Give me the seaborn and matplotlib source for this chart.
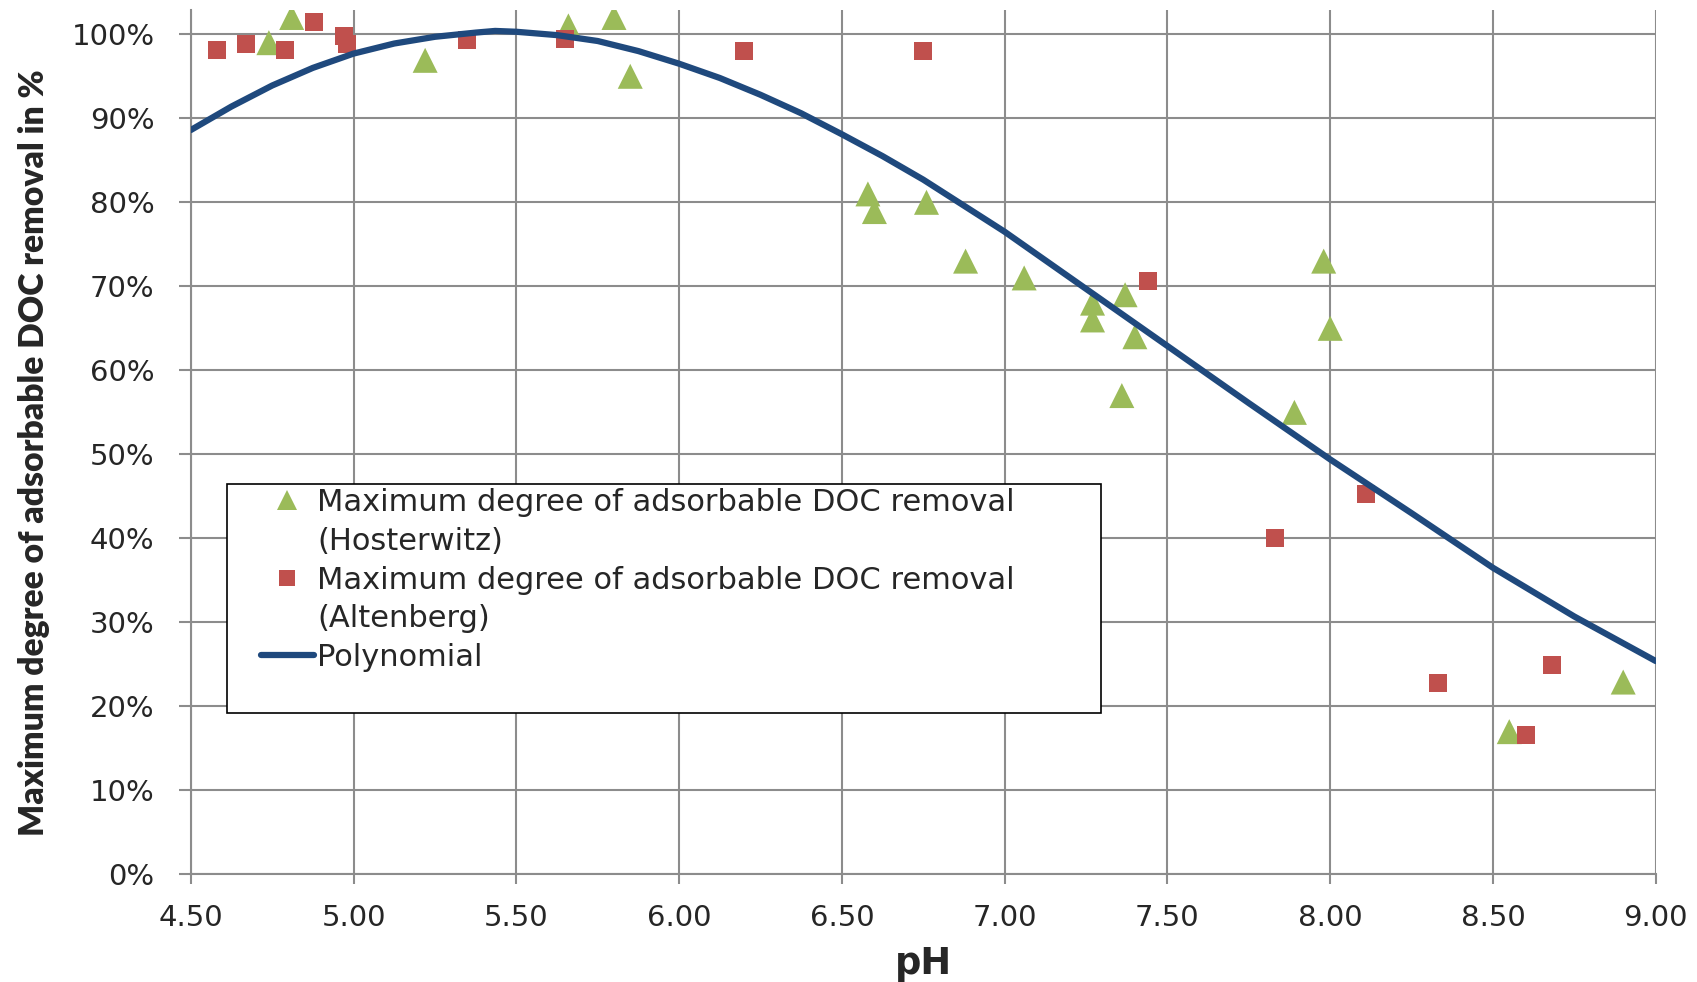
import matplotlib
matplotlib.use("Agg")
import matplotlib.pyplot as plt
import seaborn as sns
import numpy as np
import pandas as pd
from matplotlib.lines import Line2D
from matplotlib.patches import Rectangle
from matplotlib.ticker import FuncFormatter, MultipleLocator

# Hosterwitz measurements (pH, removal %)
hoster_ph = [4.74, 4.81, 5.22, 5.66, 5.80, 5.85, 6.58, 6.60, 6.76, 6.88, 7.06,
             7.27, 7.27, 7.37, 7.40, 7.36, 7.98, 8.00, 7.89, 8.55, 8.90]
hoster_removal = [99.0, 102.0, 96.9, 101.0, 102.0, 95.0, 81.0, 78.9, 80.0, 73.0, 71.0,
                  68.0, 66.0, 69.0, 64.0, 57.0, 73.0, 65.0, 55.0, 17.0, 22.9]

# Altenberg measurements (pH, removal %)
alten_ph = [4.58, 4.67, 4.79, 4.88, 4.97, 4.98, 5.35, 5.65, 6.20, 6.75,
            7.44, 8.11, 7.83, 8.33, 8.60, 8.68]
alten_removal = [98.1, 98.8, 98.1, 101.5, 99.8, 98.8, 99.3, 99.4, 98.0, 98.0,
                 70.6, 45.3, 40.0, 22.8, 16.6, 24.9]

# polynomial trendline
poly_ph = [4.500, 4.625, 4.750, 4.875, 5.000, 5.125, 5.250, 5.375, 5.435, 5.500,
           5.625, 5.750, 5.875, 6.000, 6.125, 6.250, 6.375, 6.500, 6.625, 6.750,
           6.875, 7.000, 7.250, 7.500, 7.750, 8.000, 8.250, 8.500, 8.750, 9.000]
poly_removal = [88.6, 91.4, 93.9, 96.0, 97.7, 98.9, 99.7, 100.2, 100.4, 100.3,
                99.9, 99.2, 98.0, 96.5, 94.8, 92.8, 90.6, 88.1, 85.5, 82.7,
                79.6, 76.5, 69.7, 62.9, 56.1, 49.4, 43.0, 36.5, 30.7, 25.4]

label_hoster = "Maximum degree of adsorbable DOC removal"
label_alten = "Maximum degree of adsorbable DOC removal"
green = "#9BBB59"
red = "#C0504D"
blue = "#1F497D"
grid_c = "#8C8C8C"

sns.set_style("white")
plt.rcParams['font.family'] = ['DejaVu Sans']

fig = plt.figure(figsize=(16.97, 9.82), dpi=100)
ax = fig.add_axes([0.1124, 0.1095, 0.8633, 0.8804])

sns.scatterplot(x=hoster_ph, y=hoster_removal, marker='^', s=18 ** 2, color=green,
                edgecolor='none', linewidth=0, ax=ax, zorder=3)
sns.scatterplot(x=alten_ph, y=alten_removal, marker='s', s=13 ** 2, color=red,
                edgecolor='none', linewidth=0, ax=ax, zorder=3)
sns.lineplot(x=poly_ph, y=poly_removal, color=blue, lw=4.5, estimator=None,
             sort=False, ax=ax, zorder=4)

ax.set_xlim(4.5, 9.0)
ax.set_ylim(0, 102.9)
ax.xaxis.set_major_locator(MultipleLocator(0.5))
ax.yaxis.set_major_locator(MultipleLocator(10))
ax.xaxis.set_major_formatter(FuncFormatter(lambda v, p: f"{v:.2f}"))
ax.yaxis.set_major_formatter(FuncFormatter(lambda v, p: f"{v:.0f}%"))
ax.grid(True, color=grid_c, lw=1.5)
ax.set_axisbelow(True)
for s in ['top', 'right']:
    ax.spines[s].set_visible(False)
for s in ['left', 'bottom']:
    ax.spines[s].set_color(grid_c)
    ax.spines[s].set_linewidth(1.5)
ax.tick_params(axis='x', direction='out', length=7.5, width=1.5, color=grid_c,
               labelsize=21, pad=14, bottom=True)
ax.tick_params(axis='y', direction='out', length=9, width=1.5, color=grid_c,
               labelsize=21, pad=17, left=True)

ax.set_xlabel("pH", fontsize=26.5, fontweight='bold', va='center')
ax.xaxis.set_label_coords(0.5, -0.1024)

ylab = ax.set_ylabel("Maximum degree of adsorbable DOC removal in %", fontsize=26,
                     fontweight='heavy', family=['Lato', 'DejaVu Sans'],
                     va='center', ha='center')
ax.yaxis.set_label_coords(-0.107, 0.4876)
# scale the axis title so its length matches the original (~765 px)
fig.canvas.draw()
h = ylab.get_window_extent().height
ylab.set_fontsize(26 * 765 / h)

# legend box
ax.add_patch(Rectangle((0.0248, 0.1868), 0.5966, 0.2649, transform=ax.transAxes,
                       facecolor='white', edgecolor='black', lw=1.2, zorder=5))
handles = [
    Line2D([], [], marker='^', ls='none', color=green, markersize=14, markeredgewidth=0),
    Line2D([], [], ls='none'),
    Line2D([], [], marker='s', ls='none', color=red, markersize=11, markeredgewidth=0),
    Line2D([], [], ls='none'),
    Line2D([], [], color=blue, lw=4.5, solid_capstyle='round'),
]
labels = [label_hoster, "(Hosterwitz)", label_alten, "(Altenberg)", "Polynomial"]
leg = ax.legend(handles, labels, loc='upper left', bbox_to_anchor=(0.048, 0.447),
                frameon=False, fontsize=22, handlelength=1.73, handletextpad=0.1,
                labelspacing=0.32, borderpad=0, borderaxespad=0)
leg.set_zorder(6)

fig.savefig("out.png", dpi=100)
